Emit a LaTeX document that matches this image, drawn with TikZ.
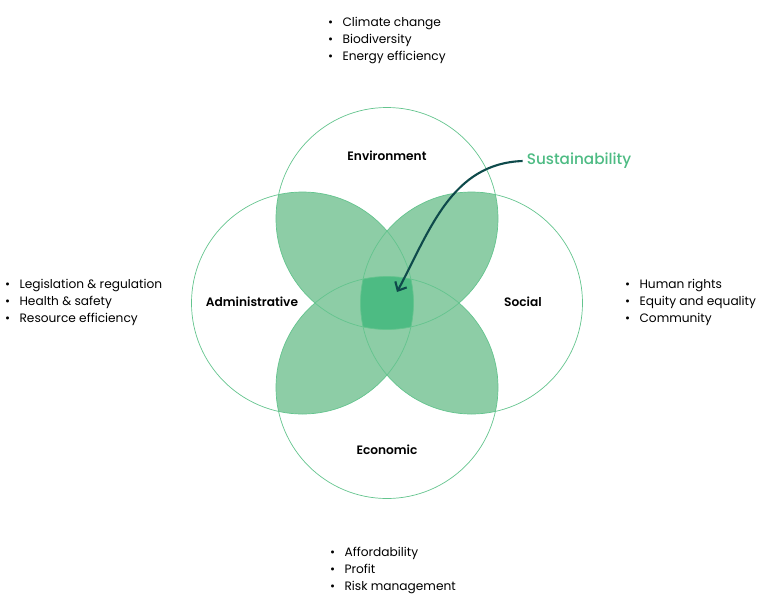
\documentclass[tikz,border=0pt]{standalone}
\usepackage{fontspec}
\setmainfont{Poppins}[BoldFont={Poppins SemiBold}]
\newfontfamily\poppinsmed{Poppins Medium}
\usepackage{xcolor}
\definecolor{verde}{RGB}{77, 187, 131}
\definecolor{verdeClaro}{RGB}{141, 205, 166}
\definecolor{verdeLinea}{RGB}{100, 196, 142}
\definecolor{petroleo}{RGB}{14, 74, 75}
\usepackage{tikz}
\usetikzlibrary{arrows.meta,calc,positioning}
\tikzstyle{ring}  =[draw=verdeLinea, line width=0.6pt]
\tikzstyle{titulo}=[font=\bfseries\fontsize{10.4}{12}\selectfont, text=black]
\tikzstyle{lista} =[font=\fontsize{10.4}{14.6}\selectfont, align=left,
                    anchor=west, inner sep=0pt]
\tikzstyle{flecha}=[draw=petroleo, line width=1.8pt,
                    -{Straight Barb[length=6pt,width=11pt,line width=1.8pt]}]
\newcommand{\punto}{\makebox[0.43cm][l]{\textbullet}}
\newcommand{\radio}{111}

\begin{document}
\begin{tikzpicture}[x=0.03cm,y=0.03cm]
    \useasboundingbox (-387,-300) rectangle (372,303);

    \coordinate (T) at (0,84.5);
    \coordinate (B) at (0,-84.5);
    \coordinate (L) at (-84.5,0);
    \coordinate (R) at (84.5,0);
    \coordinate (centro) at (10,11);

    % petals
    \foreach \a/\b in {T/L,T/R,B/L,B/R}{
        \begin{scope}
            \clip (\a) circle[radius=\radio];
            \fill[verdeClaro] (\b) circle[radius=\radio];
        \end{scope}
    }
    \begin{scope}
        \clip (T) circle[radius=\radio];
        \clip (B) circle[radius=\radio];
        \clip (L) circle[radius=\radio];
        \fill[verde] (R) circle[radius=\radio];
    \end{scope}

    \foreach \c in {T,L,R,B}
        \draw[ring] (\c) circle[radius=\radio];

    \node[titulo] (env) at (0,147) {Environment};
    \node[titulo] (adm) at (-135,1) {Administrative};
    \node[titulo] (soc) at (136,1) {Social};
    \node[titulo] (eco) at (0,-147) {Economic};

    \node[font=\poppinsmed\fontsize{13}{14}\selectfont, text=verde] (sust) at (192,142) {Sustainability};
    \draw[flecha] (sust.west) to[out=182,in=62] (centro);

    \node[lista] (listEnv) at (-59,262.5) {\punto Climate change\\ \punto Biodiversity\\ \punto Energy efficiency};
    \node[lista] (listAdm) at (-382,0.5) {\punto Legislation \& regulation\\ \punto Health \& safety\\ \punto Resource efficiency};
    \node[lista] (listSoc) at (238,0.5) {\punto Human rights\\ \punto Equity and equality\\ \punto Community};
    \node[lista] (listEco) at (-57,-267.5) {\punto Affordability\\ \punto Profit\\ \punto Risk management};
\end{tikzpicture}
\end{document}
